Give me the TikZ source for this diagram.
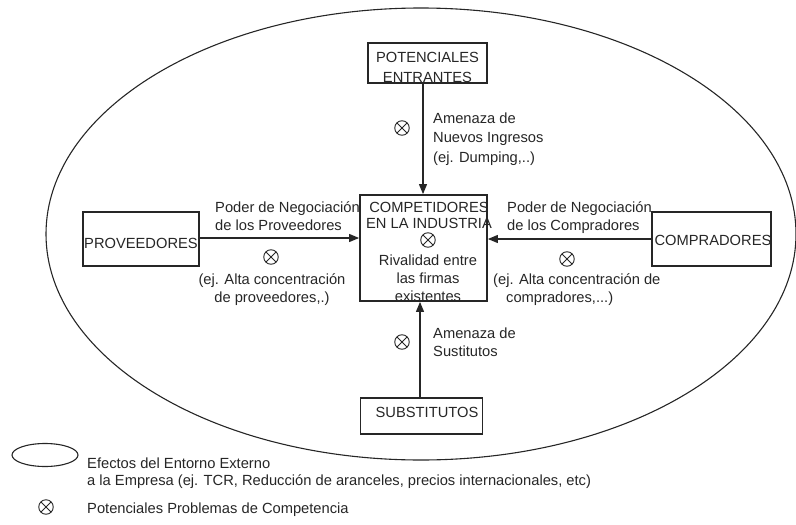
\documentclass[tikz,border=0pt]{standalone}
\usepackage{fontspec}
\setmainfont{Liberation Sans}
\usetikzlibrary{arrows.meta,calc}
% fixed first-line height so that north anchors give predictable baselines
\newcommand\firstln{\rule{0pt}{14pt}}
\begin{document}
\begin{tikzpicture}[x=1pt,y=-1pt,
  ink/.style={black!85},
  every node/.style={font=\fontsize{14.7}{18}\selectfont, inner sep=0pt, text=black!85},
  box/.style={draw=black!85, line width=1.1pt},
  arr/.style={draw=black!85, line width=1.1pt, -{Triangle[length=10pt,width=8pt]}},
  lbl/.style={align=left, anchor=north west},
  ctr/.style={align=center, anchor=north},
  prob/.style={draw=black!85, circle, minimum size=14.5pt, line width=0.9pt,
    path picture={\draw[line width=0.9pt, black!85]
      (path picture bounding box.north west) -- (path picture bounding box.south east)
      (path picture bounding box.north east) -- (path picture bounding box.south west);}}
]
\useasboundingbox (0,0) rectangle (796,525);

% external environment
\draw[ink, line width=1.1pt] (421,234) ellipse [x radius=375pt, y radius=226pt];

% the five forces boxes
\node[box, minimum width=119pt, minimum height=40pt] (ent) at (427.5,63) {};
\node[ctr, font=\fontsize{14.7}{20}\selectfont] (entT) at (427.5,48) {\firstln POTENCIALES\\ENTRANTES};

\node[box, line width=1.8pt, minimum width=127pt, minimum height=106pt] (comp) at (423.5,248) {};
\node[ctr, font=\fontsize{14.7}{16}\selectfont] (compT) at (429,198) {\firstln COMPETIDORES\\EN LA INDUSTRIA};
\node[prob] (oc) at (428,240) {};
\node[ctr] (compR) at (428,251) {\firstln Rivalidad entre\\las firmas\\existentes};

\node[box, minimum width=116pt, minimum height=54pt] (prov) at (141,239) {};
\node[anchor=base] (provT) at (141,248) {PROVEEDORES};

\node[box, minimum width=119pt, minimum height=54pt] (compr) at (711.5,239) {};
\node[anchor=base] (comprT) at (713,245) {COMPRADORES};

\node[box, minimum width=122pt, minimum height=36pt] (subs) at (421.5,416) {};
\node[anchor=base] (subsT) at (427,417) {SUBSTITUTOS};

% connectors
\coordinate (topx) at (423,0);
\coordinate (botx) at (420,0);
\coordinate (lrow) at (0,238);
\coordinate (rrow) at (0,239);
\draw[arr] (ent.south -| topx) -- (comp.north -| topx);
\draw[arr] (subs.north -| botx) -- (comp.south -| botx);
\draw[arr] (prov.east |- lrow) -- (comp.west |- lrow);
\draw[arr] (compr.west |- rrow) -- (comp.east |- rrow);

% labels of the forces
\node[prob] (o1) at (402,128) {};
\node[lbl, font=\fontsize{14.7}{19.5}\selectfont] (t1) at (433,109) {\firstln Amenaza de\\Nuevos Ingresos\\(ej. Dumping,..)};

\node[lbl] (t2) at (215,198) {\firstln Poder de Negociación\\de los Proveedores};
\node[prob] (o2) at (271,257) {};
\node[ctr] (t3) at (272,270) {\firstln (ej. Alta concentración\\de proveedores,.)};

\node[lbl] (t4) at (507,198) {\firstln Poder de Negociación\\de los Compradores};
\node[prob] (o3) at (567,259) {};
\node[lbl] (t5) at (493,270) {\firstln (ej. Alta concentración de\\\hspace{13pt}compradores,...)};

\node[prob] (o4) at (402,342) {};
\node[lbl] (t6) at (433,324) {\firstln Amenaza de\\Sustitutos};

% legend
\draw[ink, line width=1.1pt] (45,455) ellipse [x radius=33pt, y radius=11.5pt];
\node[anchor=base west] (lg1) at (87,468) {Efectos del Entorno Externo};
\node[anchor=base west] (lg2) at (87,485) {a la Empresa (ej. TCR, Reducción de aranceles, precios internacionales, etc)};
\node[prob] (lgo) at (46,507) {};
\node[anchor=base west] (lg3) at (87,513) {Potenciales Problemas de Competencia};
\end{tikzpicture}
\end{document}
